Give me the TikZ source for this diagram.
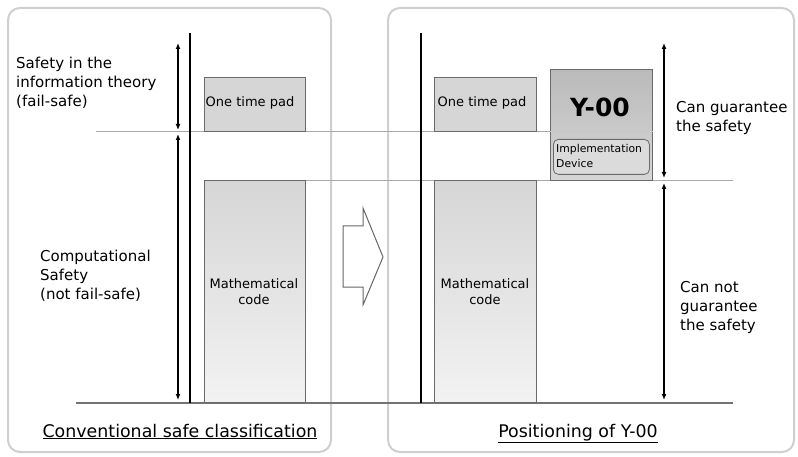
\documentclass[tikz,border=0pt]{standalone}
\usepackage{fontspec}
\setmainfont{DejaVu Sans}
\usetikzlibrary{arrows.meta}
\definecolor{panelc}{HTML}{CFCFCF}
\definecolor{hline}{HTML}{A8A8A8}
\definecolor{boxedge}{HTML}{6A6A6A}
\definecolor{padfill}{HTML}{D6D6D6}
\tikzset{
  panel/.style={draw=panelc, line width=2pt, rounded corners=12pt},
  padbox/.style={draw=boxedge, line width=0.8pt, fill=padfill, anchor=north west, inner sep=0pt},
  mathbox/.style={draw=boxedge, line width=0.8pt, top color=padfill, bottom color=black!5!white, anchor=north west, inner sep=0pt},
  ybox/.style={draw=boxedge, line width=0.8pt, top color=black!27, bottom color=black!16, anchor=north west, inner sep=0pt},
  devbox/.style={draw=boxedge, line width=0.8pt, rounded corners=5pt, fill=black!14, anchor=north west, inner sep=0pt},
  guide/.style={draw=hline, line width=0.8pt},
  baseln/.style={draw=black!55, line width=1.2pt},
  axis/.style={draw=black, line width=1.3pt},
  dbl/.style={draw=black, line width=1.8pt, {Latex[length=6pt,width=5pt]}-{Latex[length=6pt,width=5pt]}},
  lbl/.style={font=\fontsize{15}{19}\selectfont, align=left, inner sep=0pt, anchor=base west},
  boxlbl/.style={font=\fontsize{13}{17}\selectfont, align=center, inner sep=0pt, anchor=base},
  ttl/.style={font=\fontsize{17.4}{20}\selectfont, inner sep=0pt, anchor=base},
}
\begin{document}
\begin{tikzpicture}[x=1pt, y=-1pt]
\useasboundingbox (0,0) rectangle (798,457);
% panels
\draw[panel] (8,8) rectangle (331,452);
\draw[panel] (388,8) rectangle (794,452);
% guide lines
\coordinate (g1a) at (96,131);
\coordinate (g1b) at (550,131);
\coordinate (g2a) at (204,180);
\coordinate (g2b) at (733,180);
\coordinate (g3a) at (76,403);
\coordinate (g3b) at (733,403);
\draw[guide] (g1a) -- (g1b);
\draw[guide] (g2a) -- (g2b);
\draw[baseln] (g3a) -- (g3b);
% vertical axes
\coordinate (v1a) at (190,33);
\coordinate (v1b) at (190,403);
\coordinate (v2a) at (421,33);
\coordinate (v2b) at (421,403);
\draw[axis] (v1a) -- (v1b);
\draw[axis] (v2a) -- (v2b);
% left boxes
\node[padbox, minimum width=101pt, minimum height=54pt] (pad1) at (204,77) {};
\node[mathbox, minimum width=101pt, minimum height=222pt] (math1) at (204,180) {};
% right boxes
\node[padbox, minimum width=102pt, minimum height=54pt] (pad2) at (434,77) {};
\node[mathbox, minimum width=102pt, minimum height=222pt] (math2) at (434,180) {};
\node[ybox, minimum width=102pt, minimum height=111pt] (ybx) at (550,69) {};
\draw[draw=black!22, line width=0.8pt] (ybx.west |- 0,131) -- (ybx.east |- 0,131);
\node[devbox, minimum width=96pt, minimum height=35pt] (dev) at (553,139) {};
% box texts
\node[boxlbl] (t-pad1) at (250,107) {One time pad};
\node[boxlbl] (t-pad2) at (482,107) {One time pad};
\node[boxlbl] (t-math1) at (254,305) {Mathematical\\code};
\node[boxlbl] (t-math2) at (485,305) {Mathematical\\code};
\node[font=\fontsize{25}{28}\bfseries\selectfont, inner sep=0pt, anchor=base] (t-y) at (600,117) {Y-00};
\node[font=\fontsize{10.8}{15}\selectfont, align=left, inner sep=0pt, anchor=base west] (t-dev) at (556,168) {Implementation\\Device};
% double arrows left
\coordinate (a1t) at (178,43);
\coordinate (a1m) at (178,130);
\coordinate (a2t) at (178,134);
\coordinate (a2b) at (178,400);
\draw[dbl] (a1t) -- (a1m);
\draw[dbl] (a2t) -- (a2b);
% double arrows right
\coordinate (b1t) at (664,43);
\coordinate (b1m) at (664,178);
\coordinate (b2t) at (664,183);
\coordinate (b2b) at (664,400);
\draw[dbl] (b1t) -- (b1m);
\draw[dbl] (b2t) -- (b2b);
% side labels
\node[lbl] (t-info) at (16,107) {Safety in the\\information theory\\(fail-safe)};
\node[lbl] (t-comp) at (40,299) {Computational\\Safety\\(not fail-safe)};
\node[lbl] (t-can) at (676,132) {Can guarantee\\the safety};
\node[lbl] (t-cannot) at (680,330) {Can not\\guarantee\\the safety};
% hollow arrow
\draw[draw=black!60, line width=1pt, fill=white, line join=miter]
  (343,226) -- (363,226) -- (363,208) -- (383,257) -- (363,305) -- (363,287) -- (343,287) -- cycle;
% titles
\node[ttl] (t-conv) at (180,437) {\underline{Conventional safe classification}};
\node[ttl] (t-pos) at (578,437) {\underline{Positioning of Y-00}};
\end{tikzpicture}
\end{document}
